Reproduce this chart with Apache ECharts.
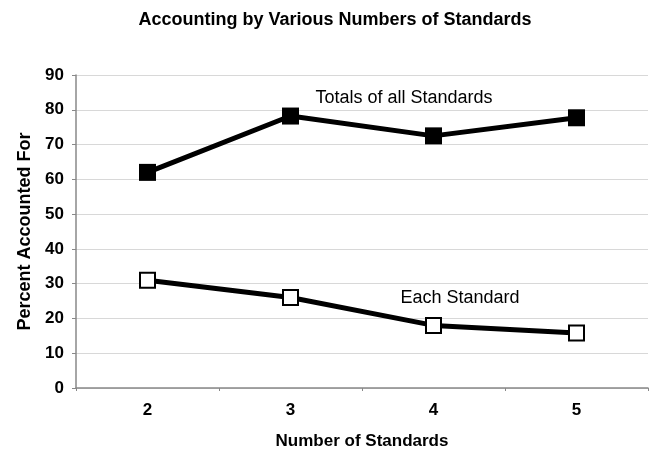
<!DOCTYPE html>
<html>
<head>
<meta charset="utf-8">
<script src="https://cdn.jsdelivr.net/npm/echarts@6/dist/echarts.min.js"></script>
<style>html,body{margin:0;padding:0;background:#fff}#c{width:652px;height:455px}</style>
</head>
<body>
<div id="c"></div>
<script>
const categories = ['2', '3', '4', '5'];
const totalsValues = [62, 78.2, 72.5, 77.7];
const eachValues = [31, 26, 18, 15.8];
const yTicks = { min: 0, max: 90, interval: 10 };

const chart = echarts.init(document.getElementById('c'), null, { renderer: 'canvas' });
const FONT = '"Liberation Sans", Arial, sans-serif';
chart.setOption({
  animation: false,
  backgroundColor: '#fff',
  title: {
    text: 'Accounting by Various Numbers of Standards',
    left: 330, top: 6, textAlign: 'center',
    textStyle: { fontFamily: FONT, fontSize: 18, fontWeight: 'bold', color: '#000' }
  },
  grid: { left: 76, right: 4, top: 75, bottom: 67, outerBoundsMode: 'none', containLabel: false },
  xAxis: {
    type: 'category', data: categories, boundaryGap: true,
    name: 'Number of Standards', nameLocation: 'middle', nameGap: 45,
    nameTextStyle: { fontFamily: FONT, fontSize: 17, fontWeight: 'bold', color: '#000' },
    axisLine: { lineStyle: { color: '#888', width: 1.5 } },
    axisTick: { show: true, length: 3, lineStyle: { color: '#888' } },
    axisLabel: { fontFamily: FONT, fontSize: 17, fontWeight: 'bold', color: '#000', margin: 14 },
    splitLine: { show: false }
  },
  yAxis: {
    type: 'value', min: yTicks.min, max: yTicks.max, interval: yTicks.interval,
    name: 'Percent Accounted For', nameLocation: 'middle', nameGap: 40, nameRotate: 90,
    nameTextStyle: { fontFamily: FONT, fontSize: 18, fontWeight: 'bold', color: '#000' },
    axisLine: { show: true, lineStyle: { color: '#888', width: 1.5 } },
    axisTick: { show: true, length: 4, lineStyle: { color: '#888' } },
    axisLabel: { fontFamily: FONT, fontSize: 17, fontWeight: 'bold', color: '#000', margin: 12 },
    splitLine: { show: true, lineStyle: { color: '#d8d8d8', width: 1 } }
  },
  series: [
    {
      name: 'Totals of all Standards', type: 'line', data: totalsValues,
      symbol: 'rect', symbolSize: 17,
      lineStyle: { color: '#000', width: 5 },
      itemStyle: { color: '#000', borderColor: '#000', borderWidth: 0 }
    },
    {
      name: 'Each Standard', type: 'line', data: eachValues,
      symbol: 'rect', symbolSize: 15,
      lineStyle: { color: '#000', width: 5 },
      itemStyle: { color: '#fff', borderColor: '#000', borderWidth: 2 }
    }
  ],
  graphic: [
    { type: 'text', x: 404, y: 98, style: { text: 'Totals of all Standards', fontFamily: FONT, fontSize: 18, fill: '#000', align: 'center', verticalAlign: 'middle' } },
    { type: 'text', x: 460, y: 298, style: { text: 'Each Standard', fontFamily: FONT, fontSize: 18, fill: '#000', align: 'center', verticalAlign: 'middle' } }
  ]
});
</script>
</body>
</html>
